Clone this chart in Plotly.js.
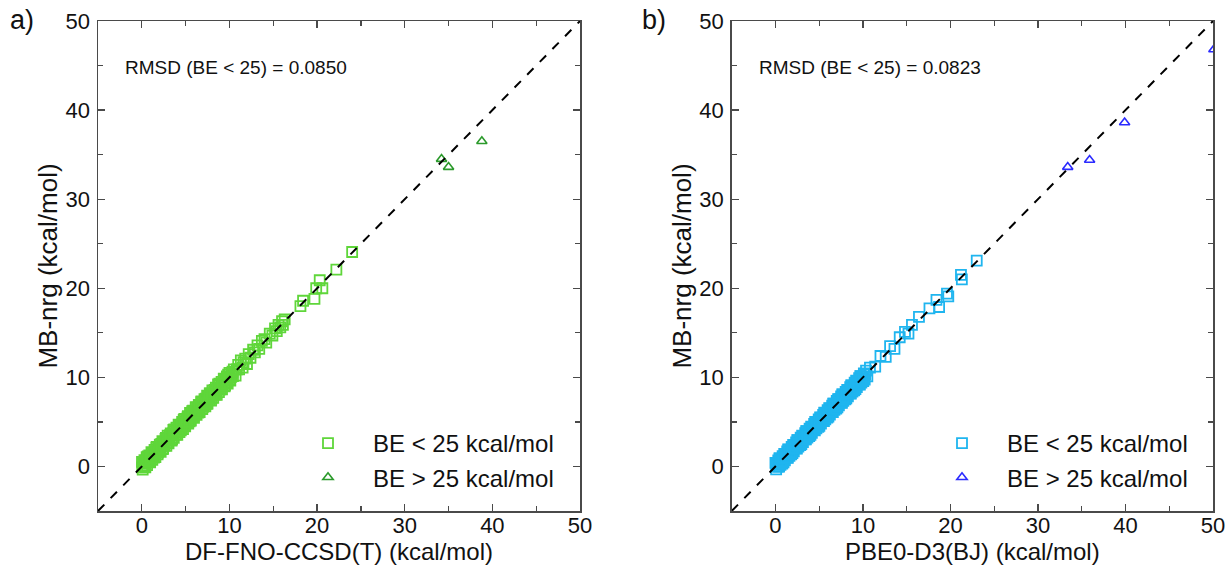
<!DOCTYPE html>
<html>
<head>
<meta charset="utf-8">
<script src="https://cdn.plot.ly/plotly-3.0.1.min.js"></script>
<style>html,body{margin:0;padding:0;background:#fff;}#chart{width:1228px;height:569px;}</style>
</head>
<body>
<div id="chart"></div>
<script>
// ---- Panel a) DF-FNO-CCSD(T) vs MB-nrg ----
var ccsdLow = [0.02,0.10,0.15,0.25,0.30,0.40,0.45,0.55,0.60,0.70,0.80,0.85,0.95,1.05,1.10,1.20,1.30,1.35,1.45,1.55,1.60,1.70,1.80,1.90,2.00,2.05,2.15,2.25,2.35,2.40,2.50,2.60,2.70,2.80,2.85,2.95,3.05,3.15,3.20,3.30,3.40,3.50,3.60,3.65,3.75,3.85,3.95,4.05,4.15,4.20,4.30,4.40,4.50,4.60,4.70,4.75,4.85,4.95,5.05,5.15,5.25,5.30,5.40,5.50,5.60,5.70,5.80,5.85,5.95,6.05,6.15,6.25,6.35,6.40,6.50,6.60,6.70,6.80,6.90,6.95,7.05,7.15,7.25,7.35,7.45,7.50,7.60,7.70,7.80,7.90,8.00,8.05,8.15,8.25,8.35,8.45,8.55,8.60,8.70,8.80,8.90,9.00,9.10,9.15,9.25,9.35,9.45,9.55,9.65,9.70,9.80,9.90,10.00,10.10,10.25,10.40,10.50,10.70,10.85,11.00,11.10,11.30,11.50,11.60,11.80,12.00,12.20,12.40,12.70,12.90,13.20,13.40,13.70,14.00,14.20,14.60,14.90,15.20,15.40,15.60,15.80,16.00,16.10,16.30,18.10,18.40,19.70,19.90,20.60,20.30,22.20,24.00];
var mbnrgLowA = [0.52,-0.35,0.35,0.00,0.70,-0.10,0.50,1.05,0.15,0.90,0.55,1.25,0.45,1.10,1.60,0.75,1.50,1.10,1.85,1.05,1.65,2.20,1.35,2.10,1.75,2.45,1.65,2.30,2.85,1.95,2.70,2.35,3.10,2.30,2.90,3.45,2.60,3.35,2.95,3.70,2.90,3.55,4.10,3.20,3.95,3.60,4.35,3.55,4.20,4.70,3.85,4.60,4.25,5.00,4.20,4.80,5.35,4.50,5.25,4.90,5.65,4.80,5.45,6.00,5.15,5.90,5.55,6.25,5.45,6.10,6.65,5.80,6.55,6.15,6.90,6.10,6.75,7.30,6.45,7.15,6.80,7.55,6.75,7.40,7.95,7.05,7.80,7.45,8.20,7.40,8.05,8.55,7.70,8.45,8.10,8.85,8.05,8.65,9.20,8.35,9.10,8.75,9.50,8.65,9.30,9.85,9.00,9.75,9.40,10.10,9.30,9.95,10.50,9.65,10.45,10.15,10.90,10.20,10.90,11.40,10.90,11.90,11.10,11.70,12.10,11.50,12.60,12.20,13.10,12.80,13.60,13.20,14.10,14.30,13.90,14.90,14.70,15.50,15.20,15.90,15.60,16.30,15.90,16.50,18.00,18.60,18.80,20.00,20.00,20.90,22.10,24.07];
var ccsdLowMore = [0.05,0.22,0.38,0.52,0.68,0.88,1.02,1.15,1.38,1.52,1.66,1.85,2.08,2.22,2.42,2.55,2.75,2.92,3.10,3.25,3.45,3.55,3.70,3.90,4.10,4.25,4.45,4.55,4.78,4.90,5.10,5.22,5.45,5.58,5.75,5.92,6.10,6.30,6.45,6.62,6.78,6.98,7.10,7.30,7.42,7.65,7.75,7.95,8.10,8.30,8.48,8.65,8.85,8.95,9.20,9.40,9.50,9.75,9.85,10.05,10.20,10.35];
var mbnrgLowAMore = [-0.10,0.52,-0.02,0.67,1.13,0.58,0.87,1.45,0.98,1.67,2.11,1.55,1.93,2.52,2.02,2.70,3.20,2.62,2.95,3.55,3.05,3.70,4.15,3.60,3.95,4.55,4.05,4.70,5.23,4.60,4.95,5.52,5.05,5.73,6.20,5.62,5.95,6.60,6.05,6.77,7.23,6.68,6.95,7.60,7.02,7.80,8.20,7.65,7.95,8.60,8.08,8.80,9.30,8.65,9.05,9.70,9.10,9.90,10.30,9.75,10.05,10.65];
var ccsdHigh = [34.2, 35.0, 38.8];
var mbnrgHighA = [34.5, 33.6, 36.5];

// ---- Panel b) PBE0-D3(BJ) vs MB-nrg ----
var pbe0Low = [0.00,0.08,0.18,0.22,0.32,0.42,0.50,0.58,0.66,0.75,0.82,0.92,1.00,1.08,1.18,1.25,1.34,1.42,1.50,1.60,1.68,1.76,1.85,1.94,2.02,2.10,2.20,2.28,2.36,2.45,2.54,2.62,2.70,2.80,2.88,2.96,3.05,3.14,3.22,3.30,3.40,3.48,3.56,3.65,3.74,3.82,3.90,4.00,4.08,4.16,4.25,4.34,4.42,4.50,4.60,4.68,4.76,4.85,4.94,5.02,5.10,5.20,5.28,5.36,5.45,5.54,5.62,5.70,5.80,5.88,5.96,6.05,6.14,6.22,6.30,6.40,6.48,6.56,6.65,6.74,6.82,6.90,7.00,7.08,7.16,7.25,7.34,7.42,7.50,7.60,7.68,7.76,7.85,7.94,8.02,8.10,8.20,8.28,8.36,8.45,8.54,8.62,8.70,8.80,8.88,8.96,9.05,9.14,9.22,9.30,9.40,9.48,9.56,9.65,9.74,9.82,9.90,10.00,10.10,10.20,10.35,10.50,10.80,11.40,12.00,12.60,13.10,13.60,14.20,14.80,15.20,15.60,16.40,17.60,18.40,18.70,19.60,19.75,21.20,21.30,23.00];
var mbnrgLowB = [0.40,-0.32,0.33,0.02,0.67,-0.03,0.90,0.18,0.81,0.55,1.17,0.47,1.40,0.68,1.33,1.05,1.69,0.97,1.90,1.20,1.83,1.56,2.20,1.49,2.42,1.70,2.35,2.08,2.71,2.00,2.94,2.22,2.85,2.60,3.23,2.51,3.45,2.74,3.37,3.10,3.75,3.03,3.96,3.25,3.89,3.62,4.25,3.55,4.48,3.76,4.40,4.14,4.77,4.05,5.00,4.28,4.91,4.65,5.29,4.57,5.50,4.80,5.43,5.16,5.80,5.09,6.02,5.30,5.95,5.68,6.31,5.60,6.54,5.82,6.45,6.20,6.83,6.11,7.05,6.34,6.97,6.70,7.35,6.63,7.56,6.85,7.49,7.22,7.85,7.15,8.08,7.36,8.00,7.74,8.37,7.65,8.60,7.88,8.51,8.25,8.89,8.17,9.10,8.40,9.03,8.76,9.40,8.69,9.62,8.90,9.55,9.28,9.91,9.20,10.14,9.42,10.05,9.80,10.45,9.75,10.75,10.10,11.10,11.20,12.40,12.30,13.50,13.20,14.50,15.10,14.90,15.90,16.80,17.75,18.70,17.90,19.40,19.10,21.50,21.00,23.10];
var pbe0LowMore = [0.12,0.28,0.45,0.62,0.78,0.96,1.12,1.30,1.46,1.63,1.80,1.98,2.15,2.32,2.50,2.66,2.84,3.00,3.18,3.35,3.52,3.70,3.86,4.04,4.20,4.38,4.55,4.72,4.90,5.06,5.24,5.40,5.58,5.75,5.92,6.10,6.26,6.44,6.60,6.78,6.95,7.12,7.30,7.46,7.64,7.80,7.98,8.15,8.32,8.50,8.66,8.84,9.00,9.18,9.35,9.52,9.70,9.86,10.04,10.25];
var mbnrgLowBMore = [0.37,-0.02,0.90,0.52,0.33,1.06,1.37,1.00,1.91,1.53,1.35,2.08,2.40,2.02,2.95,2.56,2.39,3.10,3.43,3.05,3.97,3.60,3.41,4.14,4.45,4.08,5.00,4.62,4.45,5.16,5.49,5.10,6.03,5.65,5.47,6.20,6.51,6.14,7.05,6.68,6.50,7.22,7.55,7.16,8.09,7.70,7.53,8.25,8.57,8.20,9.11,8.74,8.55,9.28,9.60,9.22,10.15,9.76,9.59,10.35];
var pbe0High = [33.4, 35.9, 39.9, 50.1];
var mbnrgHighB = [33.6, 34.4, 38.6, 46.8];

var diagLine = [-5, 50];
var legendNames = ['BE < 25 kcal/mol', 'BE > 25 kcal/mol'];
var xTitles = ['DF-FNO-CCSD(T) (kcal/mol)', 'PBE0-D3(BJ) (kcal/mol)'];
var yTitle = 'MB-nrg (kcal/mol)';
var rmsdLabels = ['RMSD (BE < 25) = 0.0850', 'RMSD (BE < 25) = 0.0823'];
var panelLabels = ['a)', 'b)'];

var FONT = 'Liberation Sans, Arial, Helvetica, sans-serif';
var AX = '#4a4a4a';

function sq(x, y, color, xa, ya, leg, grp, name) {
  return {x: x, y: y, type: 'scatter', mode: 'markers', name: name,
    xaxis: xa, yaxis: ya, legend: leg, legendgroup: grp,
    marker: {symbol: 'square-open', size: 10, color: color, line: {width: 1.8, color: color}}};
}
function tri(x, y, color, xa, ya, leg, grp, name) {
  return {x: x, y: y, type: 'scatter', mode: 'markers', name: name,
    xaxis: xa, yaxis: ya, legend: leg, legendgroup: grp,
    marker: {symbol: 'triangle-up-open', size: 9, color: color, line: {width: 1.6, color: color}}};
}
function diag(xa, ya) {
  return {x: diagLine, y: diagLine, type: 'scatter', mode: 'lines', showlegend: false,
    xaxis: xa, yaxis: ya, hoverinfo: 'skip',
    line: {color: '#000', width: 2, dash: 'dash'}};
}

var traces = [
  sq(ccsdLow.concat(ccsdLowMore), mbnrgLowA.concat(mbnrgLowAMore), '#5fd63a', 'x', 'y', 'legend', 'a1', legendNames[0]),
  tri(ccsdHigh, mbnrgHighA, '#2b9a2b', 'x', 'y', 'legend', 'a2', legendNames[1]),
  diag('x', 'y'),
  sq(pbe0Low.concat(pbe0LowMore), mbnrgLowB.concat(mbnrgLowBMore), '#1fb5ef', 'x2', 'y2', 'legend2', 'b1', legendNames[0]),
  tri(pbe0High, mbnrgHighB, '#2b2bff', 'x2', 'y2', 'legend2', 'b2', legendNames[1]),
  diag('x2', 'y2')
];

function axis(domain, title, anchor, isX) {
  return {
    domain: domain, anchor: anchor, range: [-5, 50], autorange: false,
    tick0: 0, dtick: 10, ticks: 'inside', ticklen: 7, tickwidth: 1.2, tickcolor: AX,
    minor: {dtick: 5, tick0: 0, ticks: 'inside', ticklen: 5, tickwidth: 1.2, tickcolor: AX},
    showline: true, linecolor: AX, linewidth: 1.5, mirror: 'ticks',
    showgrid: false, zeroline: false,
    tickfont: {family: FONT, size: 22, color: '#111'},
    title: {text: title, font: {family: FONT, size: isX ? 24 : 26, color: '#111'}, standoff: isX ? 3 : 0},
    automargin: false, ticklabelstandoff: isX ? -6 : 2
  };
}

var ydom = [1 - 511/569, 1 - 21/569];
var legendCommon = {xanchor: 'left', yanchor: 'top',
  bgcolor: 'rgba(0,0,0,0)', itemwidth: 80, tracegroupgap: 0, traceorder: 'grouped',
  font: {family: FONT, size: 24, color: '#111'}};
var layout = {
  width: 1228, height: 569,
  margin: {l: 0, r: 0, t: 0, b: 0},
  paper_bgcolor: '#fff', plot_bgcolor: '#fff',
  showlegend: true,
  xaxis: axis([98/1228, 580/1228], xTitles[0], 'y', true),
  yaxis: axis(ydom, yTitle, 'x', false),
  xaxis2: axis([731.7/1228, 1213/1228], xTitles[1], 'y2', true),
  yaxis2: axis(ydom, yTitle, 'x2', false),
  legend: Object.assign({x: 283/1228, y: 1 - 421/569}, legendCommon),
  legend2: Object.assign({x: 917/1228, y: 1 - 421/569}, legendCommon),
  annotations: [
    {xref: 'x', yref: 'y', x: -2.1, y: 44.8, xanchor: 'left', yanchor: 'middle', showarrow: false,
     text: rmsdLabels[0], font: {family: FONT, size: 19, color: '#111'}},
    {xref: 'x2', yref: 'y2', x: -2.1, y: 44.8, xanchor: 'left', yanchor: 'middle', showarrow: false,
     text: rmsdLabels[1], font: {family: FONT, size: 19, color: '#111'}},
    {xref: 'paper', yref: 'paper', x: 8/1228, y: 1 - 20/569, xanchor: 'left', yanchor: 'middle', showarrow: false,
     text: panelLabels[0], font: {family: FONT, size: 27, color: '#111'}},
    {xref: 'paper', yref: 'paper', x: 640/1228, y: 1 - 20/569, xanchor: 'left', yanchor: 'middle', showarrow: false,
     text: panelLabels[1], font: {family: FONT, size: 27, color: '#111'}}
  ]
};

Plotly.newPlot('chart', traces, layout, {displayModeBar: false, staticPlot: true});
</script>
</body>
</html>
